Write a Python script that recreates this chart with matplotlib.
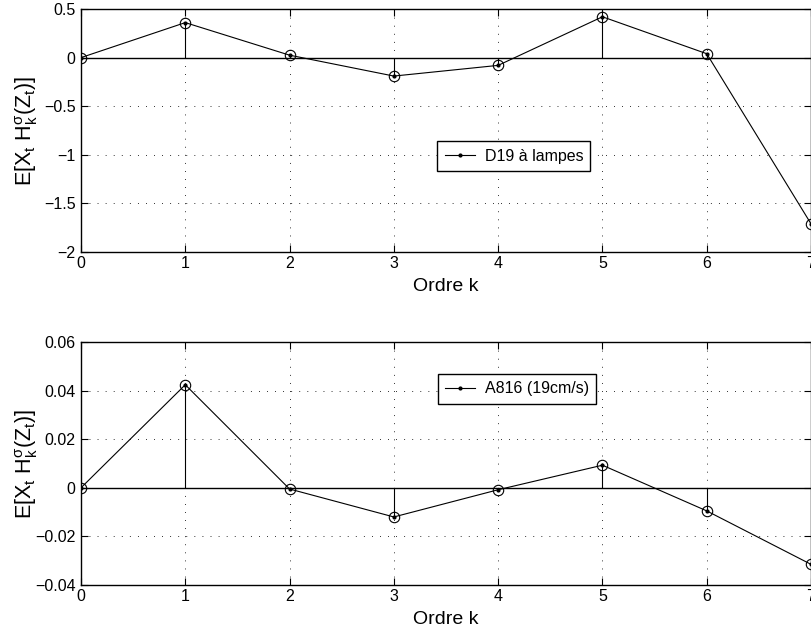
import matplotlib
matplotlib.use("Agg")
import matplotlib.pyplot as plt
import numpy as np

plt.rcParams['font.family'] = ['Liberation Sans', 'DejaVu Sans']
plt.rcParams['mathtext.fontset'] = 'custom'
plt.rcParams['mathtext.rm'] = 'Liberation Sans'
plt.rcParams['mathtext.it'] = 'Liberation Sans'
plt.rcParams['mathtext.sf'] = 'Liberation Sans'
plt.rcParams['axes.unicode_minus'] = True

# ---- data ----
orders = [0, 1, 2, 3, 4, 5, 6, 7]
d19_values = [0.0, 0.36, 0.025, -0.19, -0.08, 0.42, 0.04, -1.71]
a816_values = [0.0, 0.0424, -0.0005, -0.0120, -0.0008, 0.0093, -0.0095, -0.0315]

series_labels = ["D19 \u00e0 lampes", "A816 (19cm/s)"]
xticks = [0, 1, 2, 3, 4, 5, 6, 7]
yticks_top = [-2, -1.5, -1, -0.5, 0, 0.5]
yticklabels_top = ["\u22122", "\u22121.5", "\u22121", "\u22120.5", "0", "0.5"]
yticks_bot = [-0.04, -0.02, 0, 0.02, 0.04, 0.06]
yticklabels_bot = ["\u22120.04", "\u22120.02", "0", "0.02", "0.04", "0.06"]
xlabel = "Ordre k"
ylabel = r"E[X$_{\mathrm{t}}$ H$_{\mathrm{k}}^{\sigma}$(Z$_{\mathrm{t}}$)]"

W, H = 812, 635
fig = plt.figure(figsize=(W / 100, H / 100), dpi=100)

def px_axes(left, top, right, bottom):
    return [left / W, 1 - bottom / H, (right - left) / W, (bottom - top) / H]

ax1 = fig.add_axes(px_axes(81, 9, 811, 252))
ax2 = fig.add_axes(px_axes(81, 342, 811, 585))

configs = [
    (ax1, d19_values, series_labels[0], yticks_top, yticklabels_top, (0.593, 0.395)),
    (ax2, a816_values, series_labels[1], yticks_bot, yticklabels_bot, (0.597, 0.807)),
]

for ax, vals, lab, yt, ytl, legpos in configs:
    x = np.array(orders)
    y = np.array(vals)
    # stems
    ax.vlines(x, 0, y, color='black', lw=0.8, zorder=3)
    # baseline
    ax.axhline(0, color='black', lw=1.0, zorder=3)
    # open circles
    ax.plot(x, y, linestyle='none', marker='o', markersize=7.5,
            markerfacecolor='none', markeredgecolor='black', mew=0.8,
            zorder=4, clip_on=True)
    # connecting line with dots
    line, = ax.plot(x, y, color='black', lw=0.8, marker='.', markersize=4,
                    zorder=5, label=lab)
    ax.set_xlim(0, 7)
    ax.set_ylim(yt[0], yt[-1])
    ax.set_xticks(xticks)
    ax.set_xticklabels([str(v) for v in xticks])
    ax.set_yticks(yt)
    ax.set_yticklabels(ytl)
    ax.grid(True, color='black', linestyle=(0, (0.8, 7.5)), lw=0.7)
    ax.tick_params(direction='in', top=True, right=True, length=5,
                   width=0.8, labelsize=11.5, pad=4)
    ax.tick_params(axis='x', pad=3)
    for sp in ax.spines.values():
        sp.set_linewidth(1.0)
    ax.set_xlabel(xlabel, fontsize=14, labelpad=5)
    ax.set_ylabel(ylabel, fontsize=15.5, va='center', ha='center')
    ax.yaxis.set_label_coords((27 - 81) / 730, 0.5)
    leg = ax.legend(handles=[line], loc='center', bbox_to_anchor=legpos,
                    fancybox=False, shadow=False, framealpha=1,
                    edgecolor='black', fontsize=11.5, handlelength=1.9,
                    borderpad=0.45, handletextpad=0.6, borderaxespad=0)
    leg.get_frame().set_linewidth(1.0)

fig.savefig("out.png", dpi=100)
